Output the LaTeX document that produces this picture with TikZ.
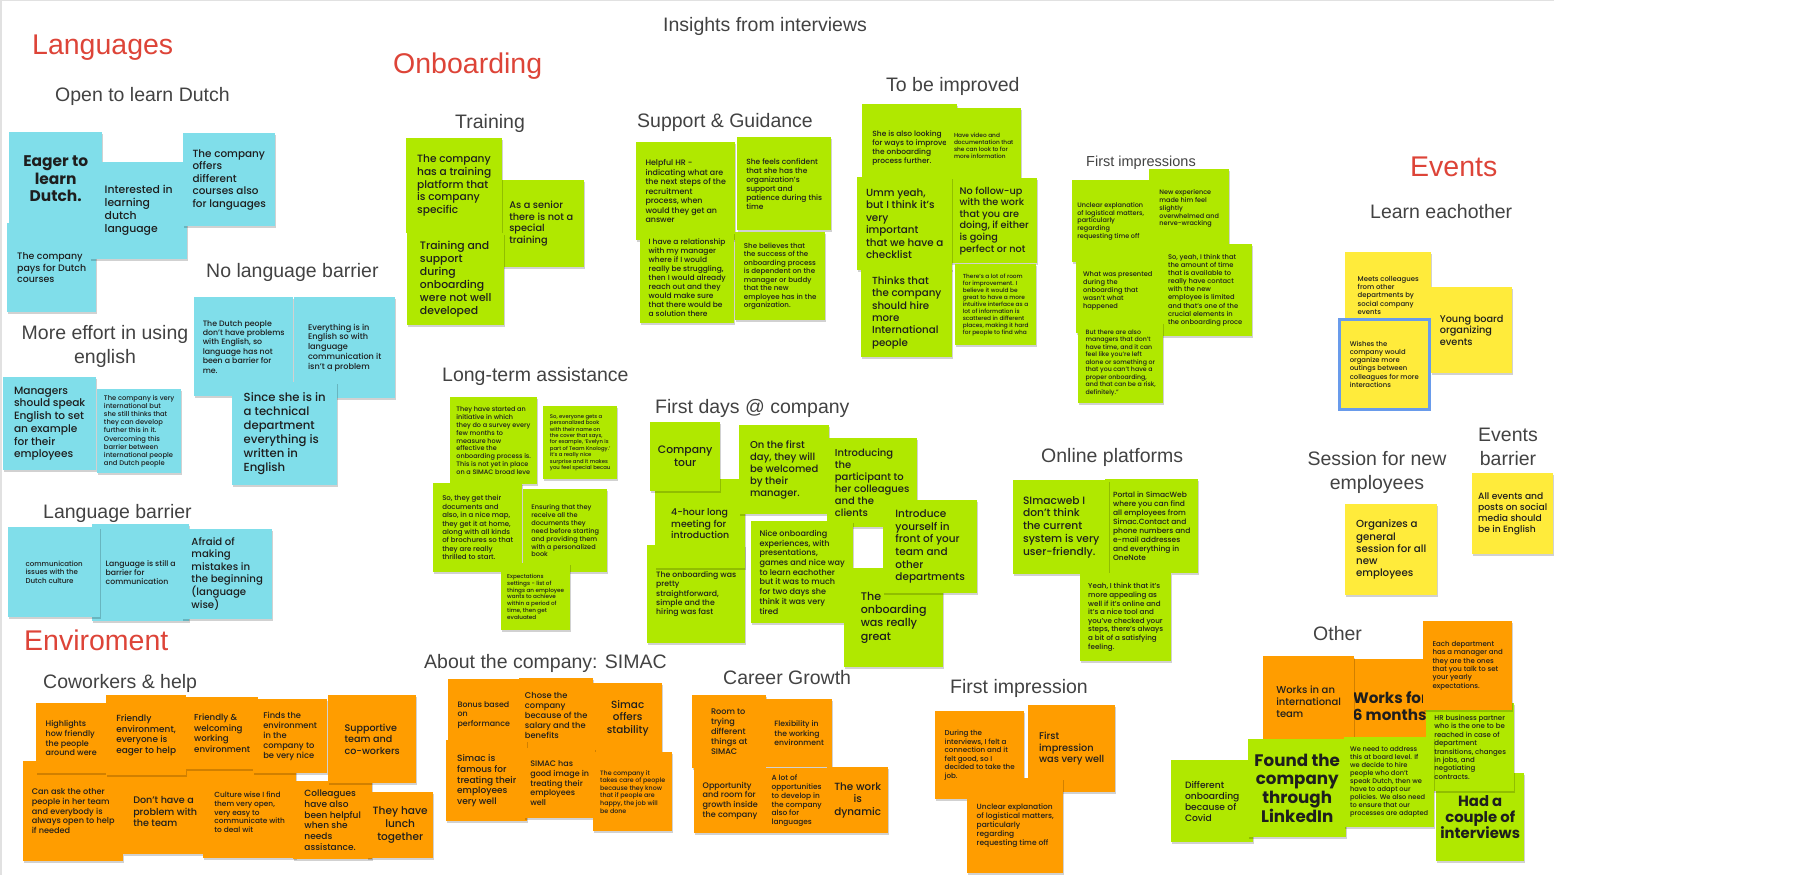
\documentclass[tikz,border=0pt]{standalone}
\usepackage{fontspec}
\IfFontExistsTF{Poppins Medium}
  {\setmainfont{Poppins}[UprightFont=* Medium, BoldFont=* Bold]}
  {\setmainfont{Poppins}}
\newfontfamily\titlefont{Liberation Sans}
\usepackage{xcolor}
\usepackage{tikz}
\usetikzlibrary{shadows}
\definecolor{notecyan}{RGB}{128,222,234}
\definecolor{notegreen}{RGB}{176,232,0}
\definecolor{noteorange}{RGB}{255,157,0}
\definecolor{noteyellow}{RGB}{255,235,59}
\definecolor{notetext}{RGB}{30,30,30}
\definecolor{titlered}{RGB}{221,68,56}
\definecolor{subgray}{RGB}{66,66,66}
\definecolor{selblue}{RGB}{105,155,235}
\definecolor{framegray}{RGB}{225,225,225}
\newcommand\fs[2][1.2]{\fontsize{\fpeval{#2/#1}}{#2}\selectfont}

\begin{document}
\begin{tikzpicture}[x=1pt, y=-1pt,
  note/.style={rectangle, fill=#1, anchor=north west, inner sep=0pt, align=left, text=notetext,
    drop shadow={shadow xshift=0.5pt, shadow yshift=-2pt, opacity=0.18, fill=black}},
  wh/.style 2 args={minimum width=#1, minimum height=#2},
  topic/.style={font=\titlefont\fontsize{28.5}{30}\selectfont, text=titlered, anchor=base west, inner sep=0pt},
  subtopic/.style={font=\titlefont\fontsize{19.5}{24}\selectfont, text=subgray, anchor=base west, inner sep=0pt, align=center},
  smalltopic/.style={font=\titlefont\fontsize{14.5}{17}\selectfont, text=subgray, anchor=base west, inner sep=0pt}
]
\useasboundingbox (0,0) rectangle (1806,875);
\draw[framegray, line width=1.5] (0,0.75) -- (1554,0.75);
\draw[framegray, line width=1.5] (0.75,0) -- (0.75,875);

% Headings
\node[subtopic] (insights) at (663,32) {Insights from interviews};
\node[topic] (languages) at (32,55) {Languages};
\node[topic] (onboarding) at (393,74) {Onboarding};
\node[topic] (events) at (1410,176) {Events};
\node[topic] (enviroment) at (24,650) {Enviroment};

% Sub-headings
\node[subtopic] (learndutch) at (55,101) {Open to learn Dutch};
\node[subtopic] (nobarrier) at (206,277) {No language barrier};
\node[subtopic, anchor=center] (moreeffort) at (105,346) {More effort in using\\english};
\node[subtopic] (langbarrier) at (43,518) {Language barrier};
\node[subtopic] (training) at (455,128) {Training};
\node[subtopic] (support) at (637,127) {Support \& Guidance};
\node[subtopic] (improve) at (886,92) {To be improved};
\node[smalltopic] (firstimps) at (1086,166) {First impressions};
\node[subtopic] (longterm) at (442,381) {Long-term assistance};
\node[subtopic] (firstdays) at (655,413) {First days @ company};
\node[subtopic] (online) at (1041,462) {Online platforms};
\node[subtopic] (learnother) at (1370,218) {Learn eachother};
\node[subtopic, anchor=center] (session) at (1377,472) {Session for new\\employees};
\node[subtopic, anchor=center] (evbarrier) at (1508,447) {Events\\barrier};
\node[subtopic] (coworkers) at (43,688) {Coworkers \& help};
\node[subtopic] (aboutsimac) at (424,668) {About the company: SIMAC};
\node[subtopic] (career) at (723,684) {Career Growth};
\node[subtopic] (firstimp) at (950,693) {First impression};
\node[subtopic] (other) at (1313,640) {Other};

% Languages
\node[note=notecyan, wh={93}{93}, align=center, font={\fs[1.12]{17.3}\bfseries}] (eager) at (9,132) {Eager to\\learn\\Dutch.};
\node[note=notecyan, wh={89}{89}, font=\fs{11.3}] (pays) at (7,223) {The company\\pays for Dutch\\courses};
\node[note=notecyan, wh={97}{97}, font=\fs{13}] (interested) at (90,162) {Interested in\\learning\\dutch\\language};
\node[note=notecyan, wh={92}{93}, font=\fs{12.5}] (offers) at (183,133) {The company\\offers\\different\\courses also\\for languages};
\node[note=notecyan, wh={99}{99}, font=\fs{9.4}] (dutchppl) at (194,297) {The Dutch people\\don't have problems\\with English, so\\language has not\\been a barrier for\\me.};
\node[note=notecyan, wh={101}{101}, font=\fs{9.8}] (everything) at (294,297) {Everything is in\\English so with\\language\\communication it\\isn't a problem};
\node[note=notecyan, wh={105}{103}, font=\fs{14}] (technical) at (232,382) {Since she is in\\a technical\\department\\everything is\\written in\\English};
\node[note=notecyan, wh={93}{93}, font=\fs{12.7}] (managers) at (3,377) {Managers\\should speak\\English to set\\an example\\for their\\employees};
\node[note=notecyan, wh={84}{84}, font=\fs{8.1}] (intl) at (97,389) {The company is very\\international but\\she still thinks that\\they can develop\\further this in it.\\Overcoming this\\barrier between\\international people\\and Dutch people};
\node[note=notecyan, wh={97}{97}, font=\fs{9.3}] (stillbarrier) at (92,524) {Language is still a\\barrier for\\communication};
\node[note=notecyan, wh={92}{90}, font=\fs{8.5}] (dutchculture) at (8,527) {communication\\issues with the\\Dutch culture};
\node[note=notecyan, wh={90}{90}, font=\fs{12.2}] (afraid) at (182,529) {Afraid of\\making\\mistakes in\\the beginning\\(language\\wise)};

% Onboarding: training
\node[note=notegreen, wh={86}{87}, font=\fs{11.7}] (senior) at (498,180) {As a senior\\there is not a\\special\\training};
\node[note=notegreen, wh={96}{95}, font=\fs{12.7}] (platform) at (406,138) {The company\\has a training\\platform that\\is company\\specific};
\node[note=notegreen, wh={97}{92}, font=\fs{13}] (developed) at (407,233) {Training and\\support\\during\\onboarding\\were not well\\developed};

% Onboarding: support
\node[note=notegreen, wh={99}{98}, font=\fs{9.5}] (helpfulhr) at (636,142) {Helpful HR -\\indicating what are\\the next steps of the\\recruitment\\process, when\\would they get an\\answer};
\node[note=notegreen, wh={94}{93}, font=\fs{9}] (confident) at (737,137) {She feels confident\\that she has the\\organization's\\support and\\patience during this\\time};
\node[note=notegreen, wh={94}{91}, font=\fs{9}] (relationship) at (640,232) {I have a relationship\\with my manager\\where if I would\\really be struggling,\\then I would already\\reach out and they\\would make sure\\that there would be\\a solution there};
\node[note=notegreen, wh={90}{88}, font=\fs{8.5}] (believes) at (735,232) {She believes that\\the success of the\\onboarding process\\is dependent on the\\manager or buddy\\that the new\\employee has in the\\organization.};

% Onboarding: to be improved
\node[note=notegreen, wh={95}{88}, font=\fs{9}] (lookingways) at (862,104) {She is also looking\\for ways to improve\\the onboarding\\process further.};
\node[note=notegreen, wh={75}{75}, font=\fs{7}] (video) at (946,108) {Have video and\\documentation that\\she can look to for\\more information};
\node[note=notegreen, wh={86}{85}, font=\fs{11.6}] (followup) at (951,178) {No follow-up\\with the work\\that you are\\doing, if either\\is going\\perfect or not};
\node[note=notegreen, wh={95}{93}, font=\fs{12.4}] (checklist) at (857,177) {Umm yeah,\\but I think it's\\very\\important\\that we have a\\checklist};
\node[note=notegreen, wh={91}{89}, font=\fs{12.3}] (hireintl) at (861,268) {Thinks that\\the company\\should hire\\more\\International\\people};
\node[note=notegreen, wh={81}{81}, font=\fs{7}] (roomimpr) at (955,264) {There's a lot of room\\for improvement. I\\believe it would be\\great to have a more\\intuitive interface as a\\lot of information is\\scattered in different\\places, making it hard\\for people to find wha};

% Onboarding: first impressions
\node[note=notegreen, wh={77}{82}, font=\fs{7.8}] (unclearlog) at (1072,180) {Unclear explanation\\of logistical matters,\\particularly\\regarding\\requesting time off};
\node[note=notegreen, wh={80}{79}, font=\fs{7.8}] (newexp) at (1149,169) {New experience\\made him feel\\slightly\\overwhelmed and\\nerve-wracking};
\node[note=notegreen, wh={83}{85}, font=\fs{8}] (presented) at (1076,248) {What was presented\\during the\\onboarding that\\wasn't what\\happened};
\node[note=notegreen, wh={94}{92}, font=\fs{8.1}] (amounttime) at (1158,244) {So, yeah, I think that\\the amount of time\\that is available to\\really have contact\\with the new\\employee is limited\\and that's one of the\\crucial elements in\\the onboarding proce};
\node[note=notegreen, wh={85}{81}, font=\fs{7.5}] (managersrisk) at (1078,322) {But there are also\\managers that don't\\have time, and it can\\feel like you're left\\alone or something or\\that you can't have a\\proper onboarding,\\and that can be a risk,\\definitely.”};

% Onboarding: long-term assistance
\node[note=notegreen, wh={87}{87}, font=\fs{7.8}] (survey) at (450,397) {They have started an\\initiative in which\\they do a survey every\\few months to\\measure how\\effective the\\onboarding process is.\\This is not yet in place\\on a SIMAC broad leve};
\node[note=notegreen, wh={74}{73}, font=\fs{6.4}] (book) at (543,406) {So, everyone gets a\\personalized book\\with their name on\\the cover that says,\\for example, ‘Evelyn is\\part of Team Knology.’\\It's a really nice\\surprise and it makes\\you feel special becau};
\node[note=notegreen, wh={89}{89}, font=\fs{8.4}] (docsmap) at (433,483) {So, they get their\\documents and\\also, in a nice map,\\they get it at home,\\along with all kinds\\of brochures so that\\they are really\\thrilled to start.};
\node[note=notegreen, wh={84}{83}, font=\fs{7.9}] (ensuring) at (523,489) {Ensuring that they\\receive all the\\documents they\\need before starting\\and providing them\\with a personalized\\book};
\node[note=notegreen, wh={69}{67}, font=\fs{6.8}] (expect) at (501,563) {Expectations\\settings - list of\\things an employee\\wants to achieve\\within a period of\\time, then get\\evaluated};

% Onboarding: first days
\node[note=notegreen, wh={98}{98}, font=\fs{9.3}] (straightfwd) at (647,545) {The onboarding was\\pretty\\straightforward,\\simple and the\\hiring was fast};
\node[note=notegreen, wh={90}{89}, font=\fs{11.3}] (fourhour) at (655,479) {4-hour long\\meeting for\\introduction};
\node[note=notegreen, wh={70}{69}, align=center, font=\fs{13}] (tour) at (650,422) {Company\\tour};
\node[note=notegreen, wh={90}{89}, font=\fs{12}] (firstday) at (739,425) {On the first\\day, they will\\be welcomed\\by their\\manager.};
\node[note=notegreen, wh={90}{89}, font=\fs{12}] (introducing) at (827,438) {Introducing\\the\\participant to\\her colleagues\\and the\\clients};
\node[note=notegreen, wh={102}{102}, font=\fs{9.7}] (niceonb) at (751,521) {Nice onboarding\\experiences, with\\presentations,\\games and nice way\\to learn eachother\\but it was to much\\for two days she\\think it was very\\tired};
\node[note=notegreen, wh={99}{99}, font=\fs{13.3}] (great) at (844,568) {The\\onboarding\\was really\\great};
\node[note=notegreen, wh={94}{93}, font=\fs{12.6}] (introduce) at (883,500) {Introduce\\yourself in\\front of your\\team and\\other\\departments};

% Onboarding: online platforms
\node[note=notegreen, wh={93}{94}, font=\fs{9}] (portal) at (1105,479) {Portal in SimacWeb\\where you can find\\all employees from\\Simac.Contact and\\phone numbers and\\e-mail addresses\\and everything in\\OneNote};
\node[note=notegreen, wh={96}{94}, font=\fs{12.8}] (simacweb) at (1013,480) {SImacweb I\\don't think\\the current\\system is very\\user-friendly.};
\node[note=notegreen, wh={91}{88}, font=\fs{8.6}] (appealing) at (1080,573) {Yeah, I think that it's\\more appealing as\\well if it's online and\\it's a nice tool and\\you've checked your\\steps, there's always\\a bit of a satisfying\\feeling.};

% Events
\node[note=noteyellow, wh={86}{86}, font=\fs{8.3}] (meets) at (1345,252) {Meets colleagues\\from other\\departments by\\social company\\events};
\node[note=noteyellow, wh={81}{86}, font=\fs{11.7}] (youngboard) at (1431,287) {Young board\\organizing\\events};
\node[note=noteyellow, wh={90}{90}, draw=selblue, line width=2.5, font=\fs{8.2}] (wishes) at (1338,318) {Wishes the\\company would\\organize more\\outings between\\colleagues for more\\interactions};
\node[note=noteyellow, wh={92}{91}, font=\fs{12.3}] (general) at (1345,504) {Organizes a\\general\\session for all\\new\\employees};
\node[note=noteyellow, wh={81}{81}, font=\fs{11}] (allevents) at (1472,473) {All events and\\posts on social\\media should\\be in English};

% Enviroment: coworkers
\node[note=noteorange, wh={100}{100}, font=\fs{9.8}] (canask) at (23,761) {Can ask the other\\people in her team\\and everybody is\\always open to help\\if needed};
\node[note=noteorange, wh={84}{85}, font=\fs{11.5}] (noproblem) at (123,769) {Don't have a\\problem with\\the team};
\node[note=noteorange, wh={93}{92}, font=\fs{8.9}] (culturewise) at (203,766) {Culture wise I find\\them very open,\\very easy to\\communicate with\\to deal wit};
\node[note=noteorange, wh={79}{78}, font=\fs{10.8}] (helpful) at (293,781) {Colleagues\\have also\\been helpful\\when she\\needs\\assistance.};
\node[note=noteorange, wh={66}{66}, align=center, font=\fs{12.7}] (lunch) at (367,792) {They have\\lunch\\together};
\node[note=noteorange, wh={70}{70}, font=\fs{9.6}] (highlights) at (36,703) {Highlights\\how friendly\\the people\\around were};
\node[note=noteorange, wh={80}{80}, font=\fs{10.7}] (friendlyenv) at (106,695) {Friendly\\environment,\\everyone is\\eager to help};
\node[note=noteorange, wh={72}{72}, font=\fs{10.4}] (welcoming) at (186,697) {Friendly \&\\welcoming\\working\\environment};
\node[note=noteorange, wh={74}{74}, font=\fs{10}] (findsnice) at (253,699) {Finds the\\environment\\in the\\company to\\be very nice};
\node[note=noteorange, wh={88}{88}, font=\fs{11.5}] (supportive) at (328,695) {Supportive\\team and\\co-workers};

% Enviroment: about the company
\node[note=noteorange, wh={71}{71}, font=\fs{9.5}] (bonus) at (448,679) {Bonus based\\on\\performance};
\node[note=noteorange, wh={74}{74}, font=\fs{10}] (salary) at (519,678) {Chose the\\company\\because of the\\salary and the\\benefits};
\node[note=noteorange, wh={69}{70}, align=center, font=\fs{12.5}] (stability) at (593,683) {Simac\\offers\\stability};
\node[note=noteorange, wh={81}{81}, font=\fs{10.8}] (famous) at (446,740) {Simac is\\famous for\\treating their\\employees\\very well};
\node[note=noteorange, wh={71}{70}, font=\fs{9.6}] (goodimage) at (524,748) {SIMAC has\\good image in\\treating their\\employees\\well};
\node[note=noteorange, wh={79}{79}, font=\fs{7.6}] (takescare) at (593,752) {The company it\\takes care of people\\because they know\\that if people are\\happy, the job will\\be done};

% Enviroment: career growth
\node[note=noteorange, wh={74}{73}, font=\fs{9.8}] (trying) at (692,695) {Room to\\trying\\different\\things at\\SIMAC};
\node[note=noteorange, wh={66}{68}, font=\fs{9.2}] (flexibility) at (766,699) {Flexibility in\\the working\\environment};
\node[note=noteorange, wh={72}{65}, font=\fs{9.7}] (opportunity) at (694,768) {Opportunity\\and room for\\growth inside\\the company};
\node[note=noteorange, wh={61}{65}, font=\fs{8.9}] (develop) at (766,768) {A lot of\\opportunities\\to develop in\\the company\\also for\\languages};
\node[note=noteorange, wh={61}{66}, align=center, font=\fs{12.5}] (dynamic) at (827,767) {The work\\is\\dynamic};

% Enviroment: first impression
\node[note=noteorange, wh={89}{88}, font=\fs{8.6}] (feltgood) at (935,711) {During the\\interviews, I felt a\\connection and it\\felt good, so I\\decided to take the\\job.};
\node[note=noteorange, wh={87}{87}, font=\fs{11.7}] (wentwell) at (1028,705) {First\\impression\\was very well};
\node[note=noteorange, wh={96}{95}, font=\fs{9}] (timeoff) at (967,778) {Unclear explanation\\of logistical matters,\\particularly\\regarding\\requesting time off};

% Other
\node[note=notegreen, wh={88}{88}, align=center, font={\fs[1.08]{16}\bfseries}] (couple) at (1436,773) {Had a\\couple of\\interviews};
\node[note=noteorange, wh={94}{93}, font={\fs[1.12]{17}\bfseries}] (sixmonths) at (1343,659) {Works for\\6 months};
\node[note=noteorange, wh={91}{90}, font=\fs{12}] (intlteam) at (1263,656) {Works in an\\international\\team};
\node[note=notegreen, wh={82}{82}, font=\fs{11}] (covid) at (1171,760) {Different\\onboarding\\because of\\Covid};
\node[note=notegreen, wh={98}{98}, align=center, font={\fs[1.12]{18.7}\bfseries}] (linkedin) at (1248,739) {Found the\\company\\through\\LinkedIn};
\node[note=notegreen, wh={88}{88}, font=\fs{8.4}] (hrpartner) at (1426,703) {HR business partner\\who is the one to be\\reached in case of\\department\\transitions, changes\\in jobs, and\\negotiating\\contracts.};
\node[note=noteorange, wh={89}{89}, font=\fs{8.4}] (yearly) at (1423,621) {Each department\\has a manager and\\they are the ones\\that you talk to set\\your yearly\\expectations.};
\node[note=notegreen, wh={90}{90}, font=\fs{8}] (boardlevel) at (1344,737) {We need to address\\this at board level. If\\we decide to hire\\people who don't\\speak Dutch, then we\\have to adapt our\\policies. We also need\\to ensure that our\\processes are adapted};

\end{tikzpicture}
\end{document}
